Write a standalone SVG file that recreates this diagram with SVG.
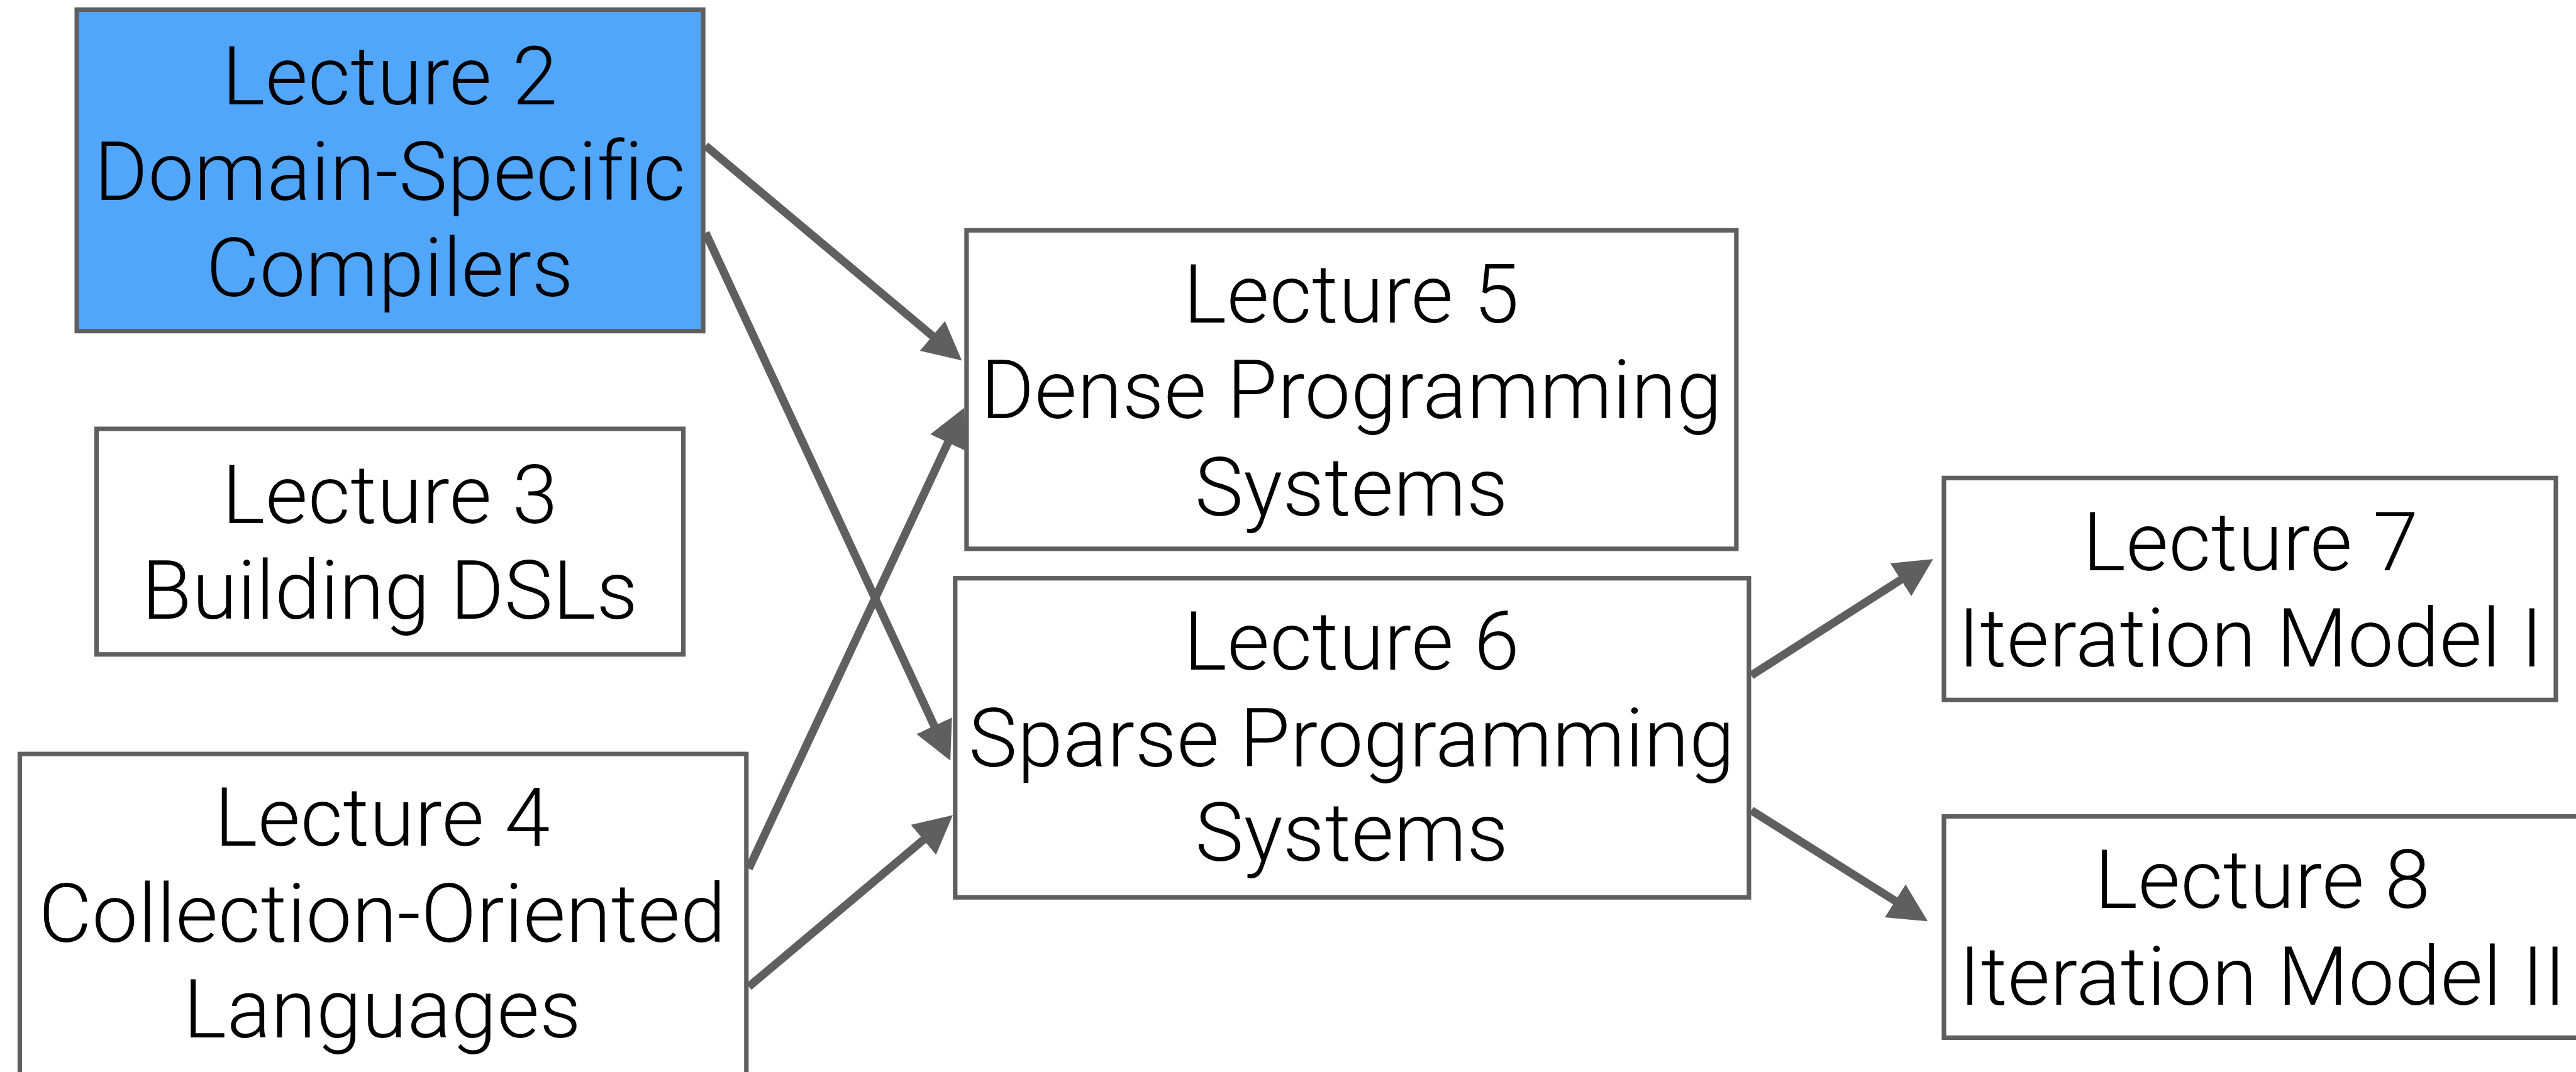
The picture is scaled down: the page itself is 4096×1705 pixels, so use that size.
<svg xmlns="http://www.w3.org/2000/svg" width="4096" height="1705" viewBox="0 0 4096 1705">
  <style>
    .box { fill: #ffffff; stroke: #5f5f5f; stroke-width: 7.2; }
    .box.hl { fill: #52a6f9; }
    .lbl { font-family: Roboto, "Liberation Sans", Arial, sans-serif; font-weight: 300; font-size: 130px; letter-spacing: 0.5px; fill: #000000; text-anchor: middle; }
    .edge { fill: none; stroke: #5f5f5f; stroke-width: 13; }
  </style>
  <defs>
    <marker id="arrow" markerUnits="userSpaceOnUse" markerWidth="61" markerHeight="62" viewBox="0 0 61 62" refX="21" refY="31" orient="auto">
      <path d="M0,0 L61,31 L0,62 Z" fill="#5f5f5f"/>
    </marker>
  </defs>
  <rect width="4096" height="1705" fill="#ffffff"/>

  <!-- connectors -->
  <g id="connectors">
    <line class="edge" x1="1121.9" y1="231.8" x2="1498.7" y2="547.7" marker-end="url(#arrow)"/>
    <line class="edge" x1="1121.9" y1="370.2" x2="1494.3" y2="1173.4" marker-end="url(#arrow)"/>
    <line class="edge" x1="1190.6" y1="1381.4" x2="1516.2" y2="684.9" marker-end="url(#arrow)"/>
    <line class="edge" x1="1190.6" y1="1569.3" x2="1484.4" y2="1322.2" marker-end="url(#arrow)"/>
    <line class="edge" x1="2784.7" y1="1074.2" x2="3040.1" y2="910.7" marker-end="url(#arrow)"/>
    <line class="edge" x1="2784.7" y1="1288.9" x2="3031.3" y2="1444.0" marker-end="url(#arrow)"/>
  </g>

  <!-- lecture nodes -->
  <g id="lecture2">
    <rect class="box hl" x="122.1" y="15.3" width="996" height="511.3"/>
    <text class="lbl" x="620" y="166">Lecture 2</text>
    <text class="lbl" x="620" y="317.7">Domain-Specific</text>
    <text class="lbl" x="620" y="471.3">Compilers</text>
  </g>
  <g id="lecture3">
    <rect class="box" x="153.6" y="682.1" width="933" height="358.7"/>
    <text class="lbl" x="620" y="831.6">Lecture 3</text>
    <text class="lbl" x="620" y="984.2">Building DSLs</text>
  </g>
  <g id="lecture4">
    <rect class="box" x="31.5" y="1199.2" width="1155.3" height="511.3"/>
    <text class="lbl" x="608" y="1345.1">Lecture 4</text>
    <text class="lbl" x="608" y="1497.8">Collection-Oriented</text>
    <text class="lbl" x="608" y="1650.4">Languages</text>
  </g>
  <g id="lecture5">
    <rect class="box" x="1536.9" y="366.3" width="1224" height="506.6"/>
    <text class="lbl" x="2148.9" y="513.3">Lecture 5</text>
    <text class="lbl" x="2148.9" y="665">Dense Programming</text>
    <text class="lbl" x="2148.9" y="819.5">Systems</text>
  </g>
  <g id="lecture6">
    <rect class="box" x="1518.8" y="919.7" width="1262.1" height="507.5"/>
    <text class="lbl" x="2149.4" y="1064.7">Lecture 6</text>
    <text class="lbl" x="2149.4" y="1219.2">Sparse Programming</text>
    <text class="lbl" x="2149.4" y="1369">Systems</text>
  </g>
  <g id="lecture7">
    <rect class="box" x="3091" y="760.3" width="973" height="353"/>
    <text class="lbl" x="3578.5" y="907.3">Lecture 7</text>
    <text class="lbl" x="3578.5" y="1059.9">Iteration Model I</text>
  </g>
  <g id="lecture8">
    <rect class="box" x="3091" y="1298.4" width="1013" height="352"/>
    <text class="lbl" x="3597.5" y="1444.4">Lecture 8</text>
    <text class="lbl" x="3597.5" y="1598">Iteration Model II</text>
  </g>
</svg>
